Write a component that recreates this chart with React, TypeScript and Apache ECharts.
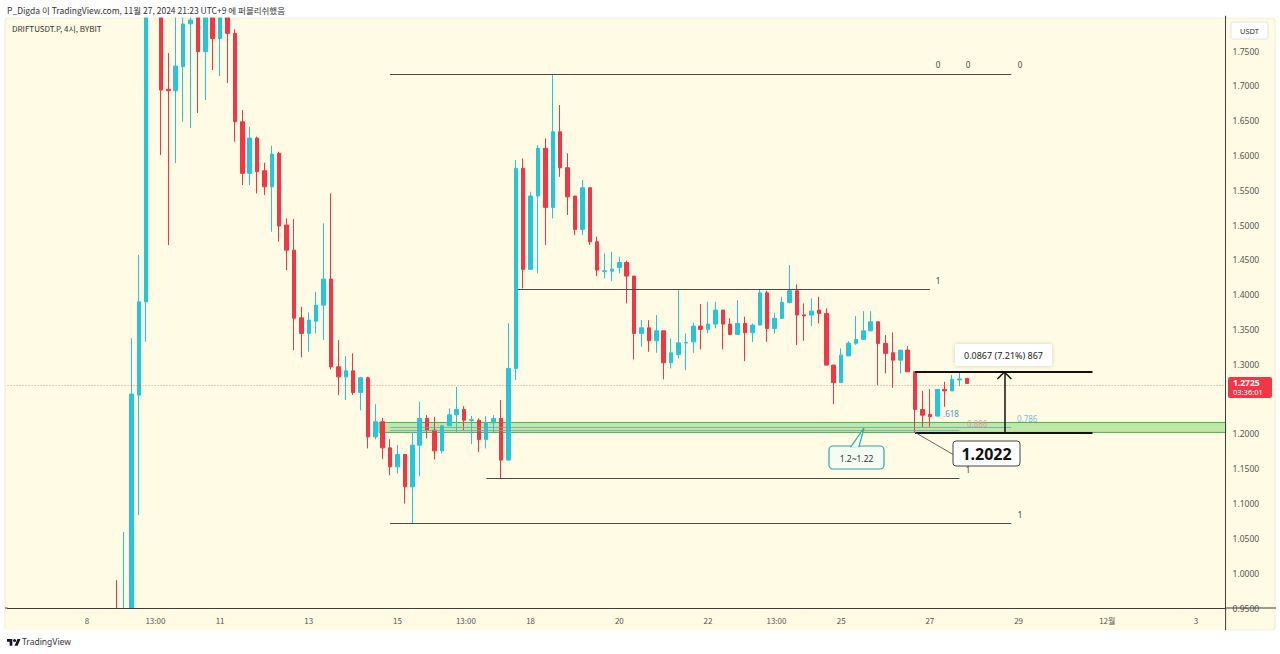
import React, { useEffect, useRef } from "react";
import * as echarts from "echarts";

// ---- time base: x values are hours after 2024-11-08 00:00 (UTC+9) ----
const hoursPerCandle = 4;
const firstCandleHour = 16; // 2024-11-08 16:00

const candleOpen = [
  0.94, 0.92, 0.935, 1.2557, 1.3898, 1.86, 1.95, 1.695, 1.693, 1.7275, 1.789, 1.83, 1.749, 1.82, 1.768, 1.82,
  1.7754, 1.6484, 1.5743, 1.625, 1.578, 1.555, 1.603, 1.5, 1.464, 1.3668, 1.3444, 1.362, 1.385, 1.4224,
  1.2964, 1.282, 1.2906, 1.2596, 1.2806, 1.1958, 1.2174, 1.18, 1.1527, 1.1705, 1.124, 1.1839, 1.2222, 1.2055,
  1.1757, 1.2116, 1.2274, 1.2352, 1.2195, 1.2198, 1.1921, 1.2159, 1.2222, 1.1624, 1.2941, 1.5815, 1.4364,
  1.5417, 1.6102, 1.5254, 1.634, 1.5823, 1.5417, 1.4938, 1.5536, 1.476, 1.4335, 1.4337, 1.439, 1.4463, 1.4267,
  1.3444, 1.3524, 1.3338, 1.3481, 1.3022, 1.3142, 1.3305, 1.3323, 1.3549, 1.3502, 1.3578, 1.3779, 1.3578,
  1.3429, 1.3587, 1.3454, 1.3563, 1.4027, 1.3516, 1.366, 1.3889, 1.4056, 1.371, 1.3707, 1.3779, 1.3731,
  1.2989, 1.2737, 1.3121, 1.3303, 1.3358, 1.3481, 1.3611, 1.33, 1.3166, 1.306, 1.3204, 1.2893, 1.2351, 1.2281,
  1.2256, 1.264, 1.2618, 1.2775, 1.2797,
];
const candleHigh = [
  0.99, 1.0593, 1.3376, 1.4569, 1.87, 1.98, 1.97, 1.747, 1.81, 1.82, 1.81, 1.85, 1.84, 1.83, 1.84, 1.83,
  1.7812, 1.6652, 1.6412, 1.627, 1.5895, 1.6139, 1.6053, 1.5096, 1.5086, 1.3826, 1.3746, 1.4042, 1.5024, 1.5455,
  1.3348, 1.3118, 1.3157, 1.282, 1.282, 1.2428, 1.2231, 1.1925, 1.1839, 1.1705, 1.203, 1.2461, 1.227, 1.2246,
  1.213, 1.2366, 1.2677, 1.2399, 1.2256, 1.2222, 1.2256, 1.227, 1.2486, 1.3588, 1.5934, 1.5958, 1.5478,
  1.6149, 1.6246, 1.717, 1.6724, 1.603, 1.5417, 1.5647, 1.5536, 1.4832, 1.4593, 1.4616, 1.4545, 1.449, 1.4267,
  1.3635, 1.3635, 1.3707, 1.3481, 1.3372, 1.4066, 1.3444, 1.3599, 1.3865, 1.3898, 1.3898, 1.3779, 1.366,
  1.3922, 1.3683, 1.3587, 1.4076, 1.4056, 1.374, 1.397, 1.4425, 1.4148, 1.3875, 1.3947, 1.397, 1.3803,
  1.2989, 1.3229, 1.333, 1.3692, 1.3764, 1.3764, 1.3611, 1.342, 1.3459, 1.3204, 1.3262, 1.2893, 1.2618, 1.2642,
  1.264, 1.2749, 1.2845, 1.288, 1.2797,
];
const candleLow = [
  0.9, 0.91, 0.93, 1.0833, 1.3323, 1.82, 1.6006, 1.4713, 1.589, 1.6484, 1.6394, 1.661, 1.6796, 1.7227, 1.714, 1.704,
  1.6197, 1.5575, 1.5575, 1.5455, 1.5431, 1.4904, 1.476, 1.4353, 1.3204, 1.3099, 1.318, 1.3444, 1.3348, 1.2927,
  1.2557, 1.2486, 1.256, 1.2339, 1.1792, 1.1921, 1.1638, 1.1408, 1.1432, 1.0999, 1.0714, 1.1394, 1.1935, 1.1633,
  1.172, 1.2116, 1.203, 1.2055, 1.1853, 1.1743, 1.1792, 1.2007, 1.136, 1.1624, 1.2773, 1.409, 1.4364,
  1.4306, 1.4713, 1.5096, 1.5694, 1.5144, 1.4856, 1.4856, 1.4713, 1.4267, 1.4234, 1.42, 1.4306, 1.3875, 1.307,
  1.3252, 1.318, 1.3166, 1.2783, 1.2941, 1.3085, 1.2917, 1.3166, 1.3214, 1.3444, 1.3516, 1.3214, 1.342,
  1.342, 1.3046, 1.332, 1.3563, 1.3323, 1.3444, 1.366, 1.3875, 1.3276, 1.3338, 1.3549, 1.3588, 1.2989,
  1.2428, 1.2737, 1.3121, 1.328, 1.3358, 1.3481, 1.2701, 1.2868, 1.2663, 1.2868, 1.2893, 1.2022, 1.2099, 1.2102,
  1.2256, 1.239, 1.2618, 1.2687, 1.2725,
];
const candleClose = [
  0.92, 0.935, 1.2572, 1.3898, 1.86, 1.95, 1.694, 1.693, 1.7284, 1.7888, 1.7945, 1.749, 1.82, 1.768, 1.82, 1.7754,
  1.6484, 1.5743, 1.625, 1.5766, 1.555, 1.602, 1.4986, 1.464, 1.3663, 1.3444, 1.3635, 1.385, 1.4224, 1.2964,
  1.282, 1.2906, 1.2596, 1.2806, 1.1958, 1.2174, 1.18, 1.1527, 1.1705, 1.124, 1.1839, 1.2222, 1.2055, 1.1757,
  1.2116, 1.2274, 1.2352, 1.2198, 1.2205, 1.1921, 1.2159, 1.2222, 1.1624, 1.2941, 1.5815, 1.4364, 1.5417,
  1.6102, 1.5254, 1.634, 1.5823, 1.5406, 1.4938, 1.5536, 1.476, 1.4353, 1.4345, 1.4367, 1.4463, 1.4267, 1.3444,
  1.3524, 1.3338, 1.3481, 1.3022, 1.3165, 1.3309, 1.3315, 1.3549, 1.3502, 1.3578, 1.3779, 1.3578, 1.3429,
  1.3587, 1.3454, 1.3563, 1.4027, 1.3516, 1.366, 1.3889, 1.4056, 1.3707, 1.3695, 1.3764, 1.3731, 1.2989,
  1.2737, 1.3132, 1.3303, 1.3358, 1.3481, 1.3611, 1.33, 1.3157, 1.306, 1.3204, 1.2893, 1.2351, 1.227, 1.2246,
  1.264, 1.2618, 1.2783, 1.279, 1.2725,
];

// ---- axes ----
const xMinHour = -43;
const xMaxHour = 616;
const xTickHours = [0, 37, 72, 120, 168, 205, 240, 288, 336, 373, 408, 456, 504, 552, 600];
const xTickLabels = ["8", "13:00", "11", "13", "15", "13:00", "18", "20", "22", "13:00", "25", "27", "29", "12월", "3"];
const yMin = 0.95;
const yMax = 1.8;
const yStep = 0.05;

// ---- drawings (prices and hours) ----
const lastPrice = 1.2725;
const levelPrices = [1.717, 1.408, 1.136, 1.0714];
const levelFrom = [164, 233, 216, 164];
const levelTo = [500, 456, 472, 500];
const fibInnerPrices = [1.2102, 1.2055];
const fibInnerTo = [500, 472];
const zoneLow = 1.2022;
const zoneHigh = 1.2165;
const zoneFrom = 158;
const measureLow = 1.2022;
const measureHigh = 1.2889;
const measureFrom = 448;
const measureTo = 544;
const measureArrowHour = 496.3;

const FONT = '"Noto Sans", "Noto Sans CJK KR", sans-serif';
const KFONT = '"Noto Sans CJK KR", "Noto Sans", sans-serif';
const UP = "#26c6da";
const DOWN = "#f23645";
const AXIS = "#3d3d3d";
const PANEL = "#fffbe4";

echarts.graphic.registerShape(
  "tvlogo",
  echarts.graphic.extendPath(
    "M14 22H7V11H0V4h14v18z M28 22h-8l7.5-18h8z M16 8a4 4 0 1 0 8 0a4 4 0 1 0 -8 0z",
    {}
  )
);

export default function App() {
  const ref = useRef<HTMLDivElement>(null);
  useEffect(() => {
    if (!ref.current) return;
    const chart = echarts.init(ref.current, null, { renderer: "svg" });

    const data = candleOpen.map((o, i) => [
      firstCandleHour + i * hoursPerCandle,
      o,
      candleClose[i],
      candleLow[i],
      candleHigh[i],
    ]);

    const seg = (t1: number, p1: number, t2: number, p2: number, ls: any) => [
      { coord: [t1, p1], lineStyle: ls },
      { coord: [t2, p2] },
    ];

    const markLines: any[] = [
      { yAxis: lastPrice, lineStyle: { color: "rgba(242,54,69,0.55)", type: [1, 2], width: 1 } },
    ];
    levelPrices.forEach((p, i) =>
      markLines.push(seg(levelFrom[i], p, levelTo[i], p, { color: "#4a4a4a", width: 1, type: "solid" }))
    );
    fibInnerPrices.forEach((p, i) =>
      markLines.push(seg(164, p, fibInnerTo[i], p, { color: "rgba(110,160,200,0.8)", width: 1, type: "solid" }))
    );
    markLines.push(seg(measureFrom, measureHigh, measureTo, measureHigh, { color: "#111", width: 2, type: "solid" }));
    markLines.push(seg(measureFrom, measureLow, measureTo, measureLow, { color: "#111", width: 2, type: "solid" }));
    markLines.push(
      seg(measureArrowHour, measureLow, measureArrowHour, measureHigh, { color: "#111", width: 1.5, type: "solid" })
    );

    const option: any = {
      animation: false,
      backgroundColor: "#ffffff",
      grid: { left: 7.52, right: 54.4, top: 16.2, bottom: 46 },
      xAxis: {
        type: "value",
        min: xMinHour,
        max: xMaxHour,
        interval: 1,
        z: 20,
        axisLine: { show: true, onZero: false, lineStyle: { color: AXIS, width: 1 } },
        axisTick: { show: false },
        splitLine: { show: false },
        axisLabel: {
          show: true,
          margin: 8,
          fontSize: 8,
          fontFamily: KFONT,
          color: "#555",
          formatter: (v: number) => {
            const i = xTickHours.indexOf(Math.round(v));
            return i >= 0 && Math.abs(v - Math.round(v)) < 1e-6 ? xTickLabels[i] : "";
          },
        },
      },
      yAxis: {
        type: "value",
        position: "right",
        min: yMin,
        max: yMax,
        interval: yStep,
        z: 20,
        axisLine: { show: true, onZero: false, lineStyle: { color: AXIS, width: 1 } },
        axisTick: { show: false },
        splitLine: { show: false },
        axisLabel: {
          margin: 7,
          fontSize: 8.5,
          fontFamily: FONT,
          color: "#555",
          formatter: (v: number) =>
            Math.abs(v - yMax) < 1e-6 || Math.abs(v - 1.25) < 1e-6 ? "" : v.toFixed(4),
        },
      },
      series: [
        {
          type: "candlestick",
          data,
          encode: { x: 0, y: [1, 2, 3, 4] },
          barWidth: 4,
          clip: true,
          itemStyle: {
            color: UP,
            color0: DOWN,
            borderColor: UP,
            borderColor0: DOWN,
            borderWidth: 1,
          },
          markArea: {
            silent: true,
            itemStyle: { color: "rgba(100,205,80,0.42)", borderColor: "#4fae52", borderWidth: 1 },
            label: { show: false },
            data: [[{ coord: [zoneFrom, zoneLow] }, { coord: [xMaxHour, zoneHigh] }]],
          },
          markLine: {
            silent: true,
            symbol: ["none", "none"],
            label: { show: false },
            data: markLines,
          },
        },
      ],
    };
    chart.setOption(option);

    const P = (t: number, p: number) => chart.convertToPixel({ gridIndex: 0 }, [t, p]) as number[];
    const [axR, axB] = P(xMaxHour, yMin);
    const [axL, axT] = P(xMinHour, yMax);
    const top = P(measureArrowHour, measureHigh);
    const lowPt = P(measureFrom, measureLow);
    const lastY = P(0, lastPrice)[1];

    const txt = (x: number, y: number, text: string, size: number, fill: string, extra: any = {}, z = 100) => ({
      type: "text",
      x,
      y,
      z,
      style: { text, fontSize: size, fontFamily: FONT, fill, verticalAlign: "middle", ...extra },
    });

    const graphic: any[] = [
      {
        type: "rect",
        z: -100,
        shape: { x: 5, y: 18, width: 1270, height: 612, r: 3 },
        style: { fill: PANEL, stroke: "#efe9cc", lineWidth: 1 },
      },
      // covers that cut the candles at the plot edges
      { type: "rect", z: 10, shape: { x: 0, y: 0, width: 1280, height: 17.5 }, style: { fill: "#ffffff" } },
      {
        type: "rect",
        z: 10,
        shape: { x: 5.5, y: axB + 0.5, width: axR - 6, height: 631 - axB - 0.5 },
        style: { fill: PANEL },
      },
      { type: "rect", z: 11, shape: { x: 0, y: 630.5, width: 1280, height: 24 }, style: { fill: "#ffffff" } },
      // axis extensions
      { type: "line", z: 50, shape: { x1: axR, y1: axB, x2: 1276, y2: axB }, style: { stroke: AXIS, lineWidth: 1 } },
      { type: "line", z: 50, shape: { x1: 5, y1: axB, x2: axL, y2: axB }, style: { stroke: AXIS, lineWidth: 1 } },
      { type: "line", z: 50, shape: { x1: axR, y1: axB, x2: axR, y2: 630 }, style: { stroke: AXIS, lineWidth: 1 } },
      { type: "line", z: 50, shape: { x1: axR, y1: 18, x2: axR, y2: axT }, style: { stroke: AXIS, lineWidth: 1 } },
      // header
      txt(7, 9.5, "P_Digda 이 TradingView.com, 11월 27, 2024 21:23 UTC+9 에 퍼블리쉬했음", 8.5, "#333", { fontFamily: KFONT }),
      txt(12, 28, "DRIFTUSDT.P, 4시, BYBIT", 8, "#333", { fontFamily: KFONT }),
      // footer
      { type: "tvlogo", x: 7, y: 637.5, scaleX: 0.38, scaleY: 0.38, z: 100, style: { fill: "#131722" } },
      txt(22, 641.5, "TradingView", 8.5, "#333"),
      // USDT box
      {
        type: "rect",
        z: 100,
        shape: { x: 1231, y: 22, width: 37, height: 17, r: 2 },
        style: { fill: "#ffffff", stroke: "#e4e4e4", lineWidth: 1 },
      },
      txt(1249.5, 30.5, "USDT", 7.5, "#333", { align: "center" }, 101),
      // last price box
      {
        type: "rect",
        z: 100,
        shape: { x: 1228, y: lastY - 6.5, width: 44, height: 21, r: 2 },
        style: { fill: DOWN },
      },
      txt(1233, lastY - 0.5, "1.2725", 8.5, "#fff", { fontWeight: "bold" }, 101),
      txt(1233, lastY + 9, "03:36:01", 7.5, "#fff", {}, 101),
      // level labels
      txt(938, P(0, levelPrices[0])[1] - 9, "0", 8, "#444", { align: "center" }),
      txt(968, P(0, levelPrices[0])[1] - 9, "0", 8, "#444", { align: "center" }),
      txt(1020, P(0, levelPrices[0])[1] - 9, "0", 8, "#444", { align: "center" }),
      txt(938, P(0, levelPrices[1])[1] - 8.5, "1", 8, "#444", { align: "center" }),
      txt(968, P(0, levelPrices[2])[1] - 9.5, "1", 8, "#444", { align: "center" }),
      txt(1020, P(0, levelPrices[3])[1] - 8.5, "1", 8, "#444", { align: "center" }),
      txt(943, 413, ".618", 8, "#4a97cf"),
      txt(967, 423, "0.886", 8, "#d7a0a0"),
      txt(1017, 418, "0.786", 8, "#79bfe0"),
      // measure arrow head
      {
        type: "polyline",
        z: 100,
        shape: { points: [[top[0] - 7, top[1] + 7], [top[0], top[1]], [top[0] + 7, top[1] + 7]] },
        style: { stroke: "#111", lineWidth: 1.5, fill: "none" },
      },
      // measure label
      {
        type: "rect",
        z: 100,
        shape: { x: 955, y: 344, width: 97, height: 22, r: 2 },
        style: { fill: "#ffffff", shadowBlur: 4, shadowColor: "rgba(0,0,0,0.18)" },
      },
      txt(1003.5, 355, "0.0867 (7.21%) 867", 9, "#222", { align: "center" }, 101),
      // 1.2022 callout
      {
        type: "line",
        z: 100,
        shape: { x1: lowPt[0], y1: lowPt[1], x2: 954, y2: 455 },
        style: { stroke: "#666", lineWidth: 1 },
      },
      {
        type: "rect",
        z: 101,
        shape: { x: 953, y: 441, width: 67, height: 25, r: 3 },
        style: { fill: "#ffffff", stroke: "#444", lineWidth: 1 },
      },
      txt(986.5, 454, "1.2022", 16, "#111", { align: "center", fontWeight: "bold" }, 103),
      // 1.2~1.22 callout
      {
        type: "rect",
        z: 100,
        shape: { x: 829, y: 446, width: 55, height: 23, r: 4 },
        style: { fill: "#f6fbf4", stroke: "#2aa9a6", lineWidth: 1.2 },
      },
      {
        type: "polygon",
        z: 101,
        shape: { points: [[851, 446.6], [864, 428], [859, 446.6]] },
        style: { fill: "#f6fbf4", stroke: "#2aa9a6", lineWidth: 1.2 },
      },
      {
        type: "line",
        z: 102,
        shape: { x1: 851.8, y1: 446.6, x2: 858.2, y2: 446.6 },
        style: { stroke: "#f6fbf4", lineWidth: 1.6 },
      },
      txt(856.5, 458, "1.2~1.22", 8.5, "#333", { align: "center" }, 103),
    ];
    chart.setOption({ graphic });

    return () => chart.dispose();
  }, []);
  return <div ref={ref} style={{ position: "fixed", left: 0, top: 0, width: 1280, height: 654 }} />;
}
